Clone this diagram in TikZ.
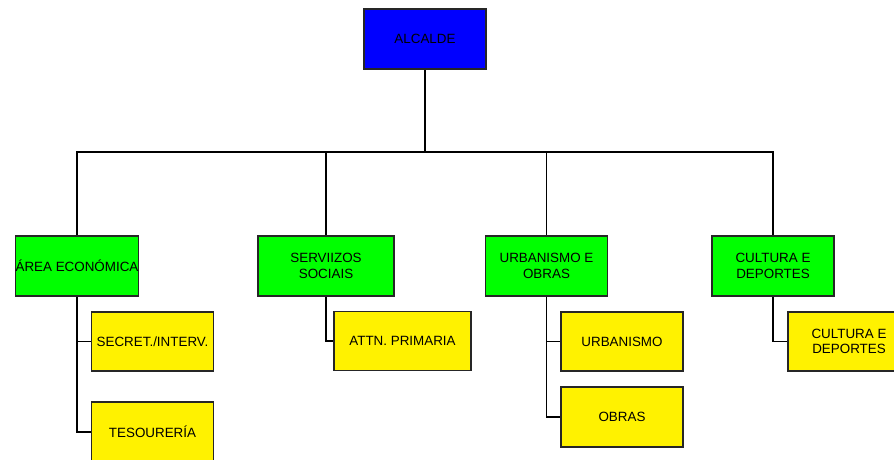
\documentclass[tikz,border=0pt]{standalone}
\usepackage{fontspec}
\newfontfamily\orgfont{Liberation Sans}
\usepackage{tikz}
\usetikzlibrary{positioning}

\begin{document}
\begin{tikzpicture}[x=1pt, y=1pt,
    box/.style={rectangle, draw=black!85, line width=1.8pt, minimum width=122pt, minimum height=60pt, inner sep=0pt, align=center, font=\orgfont\fontsize{13.4}{15.7}\selectfont},
    boss/.style={box, fill=blue},
    area/.style={box, fill=green},
    unit/.style={box, fill=yellow, minimum height=59pt},
    conn/.style={draw=black, line width=1.7pt},
    mainconn/.style={draw=black, line width=2.6pt}
]
\path[use as bounding box, clip] (0,0) rectangle (894,459);

\node[boss] (alc) at (425,420) {ALCALDE};

\node[area] (ae) at (77,193) {ÁREA ECONÓMICA};
\node[area, minimum width=136pt] (ss) at (326,193) {SERVIIZOS\\SOCIAIS};
\node[area] (uo) at (546.5,193) {URBANISMO E\\OBRAS};
\node[area] (cd) at (773,193) {CULTURA E\\DEPORTES};

\node[unit] (sec) at (152.5,117.5) {SECRET./INTERV.};
\node[unit, minimum height=60pt] (tes) at (152.5,27) {TESOURERÍA};
\node[unit, minimum width=137pt] (attn) at (402.5,118) {ATTN. PRIMARIA};
\node[unit] (urb) at (622,117.5) {URBANISMO};
\node[unit, minimum height=60pt] (obr) at (622,42) {OBRAS};
\node[unit] (cdu) at (849,117.5) {CULTURA E\\DEPORTES};

% top bus
\coordinate (bus) at (425,307);
\draw[mainconn] (alc.south) -- (bus);
\draw[conn] (ae.north) -- (ae.north |- bus) -- (cd.north |- bus) -- (cd.north);
\foreach \a in {ss,uo} {
    \draw[conn] (\a.north) -- (\a.north |- bus);
}

% sub units
\foreach \a/\u in {ae/sec, ae/tes, ss/attn, uo/urb, uo/obr, cd/cdu} {
    \draw[conn] (\a.south) |- (\u.west);
}
\end{tikzpicture}
\end{document}
